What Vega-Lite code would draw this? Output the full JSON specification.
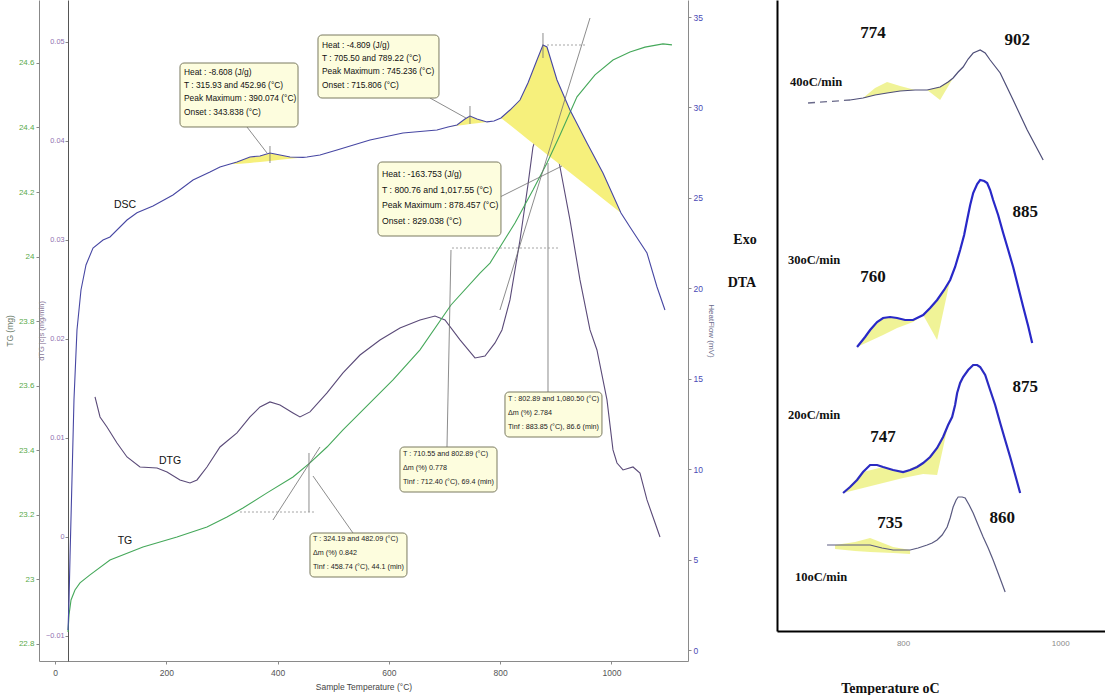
{
"$schema": "https://vega.github.io/schema/vega-lite/v6.json",
"background": "white",
"padding": {"left": 5, "top": 0, "right": 0, "bottom": 0},
"bounds": "flush",
"spacing": 89,
"config": {"view": {"stroke": null}, "font": "Liberation Sans"},
"datasets": {
"dsc": [
{"T":23.4,"hf":1.106},{"T":25.2,"hf":2.765},{"T":27.0,"hf":5.142},{"T":30.5,"hf":9.4},{"T":34.1,"hf":13.823},{"T":39.5,"hf":17.693},{"T":46.7,"hf":19.905},{"T":55.7,"hf":21.287},{"T":68.3,"hf":22.227},{"T":86.3,"hf":22.669},{"T":98.8,"hf":22.835},{"T":129.4,"hf":23.775},{"T":147.3,"hf":24.179},{"T":176.1,"hf":24.552},{"T":212.0,"hf":25.158},{"T":248.0,"hf":25.987},{"T":278.5,"hf":26.429},{"T":296.5,"hf":26.706},{"T":316.3,"hf":26.882},{"T":327.0,"hf":26.983},{"T":350.4,"hf":27.261},{"T":368.4,"hf":27.317},{"T":386.3,"hf":27.483},{"T":404.3,"hf":27.372},{"T":422.3,"hf":27.261},{"T":445.6,"hf":27.236},{"T":452.8,"hf":27.261},{"T":476.2,"hf":27.372},{"T":506.7,"hf":27.648},{"T":566.0,"hf":28.199},{"T":625.3,"hf":28.586},{"T":686.4,"hf":28.752},{"T":706.2,"hf":28.918},{"T":722.4,"hf":29.028},{"T":736.7,"hf":29.36},{"T":745.7,"hf":29.526},{"T":758.3,"hf":29.36},{"T":776.3,"hf":29.199},{"T":788.9,"hf":29.249},{"T":801.4,"hf":29.415},{"T":817.6,"hf":29.857},{"T":835.6,"hf":30.41},{"T":849.9,"hf":31.35},{"T":866.1,"hf":32.622},{"T":876.9,"hf":33.451},{"T":884.1,"hf":33.341},{"T":902.1,"hf":31.516},{"T":925.4,"hf":29.857},{"T":956.0,"hf":28.033},{"T":984.7,"hf":26.374},{"T":1017.1,"hf":24.162},{"T":1033.2,"hf":23.388},{"T":1063.8,"hf":21.951},{"T":1081.8,"hf":20.071},{"T":1096.1,"hf":18.799}
],
"dsc_fill": [
{"peak":"p1","T":316.3,"hf":26.882,"hf2":26.882},{"peak":"p1","T":327.0,"hf":26.983,"hf2":26.874},{"peak":"p1","T":350.4,"hf":27.261,"hf2":26.927},{"peak":"p1","T":368.4,"hf":27.317,"hf2":26.988},{"peak":"p1","T":386.3,"hf":27.483,"hf2":27.043},{"peak":"p1","T":404.3,"hf":27.372,"hf2":27.104},{"peak":"p1","T":422.3,"hf":27.261,"hf2":27.159},{"peak":"p1","T":445.6,"hf":27.236,"hf2":27.236},{"peak":"p1","T":452.8,"hf":27.261,"hf2":27.261},
{"peak":"p2","T":706.2,"hf":28.918,"hf2":28.918},{"peak":"p2","T":722.4,"hf":29.028,"hf2":28.984},{"peak":"p2","T":736.7,"hf":29.36,"hf2":29.039},{"peak":"p2","T":745.7,"hf":29.526,"hf2":29.077},{"peak":"p2","T":758.3,"hf":29.36,"hf2":29.127},{"peak":"p2","T":776.3,"hf":29.199,"hf2":29.199},{"peak":"p2","T":788.9,"hf":29.249,"hf2":29.249},
{"peak":"p3","T":801.4,"hf":29.415,"hf2":29.415},{"peak":"p3","T":817.6,"hf":29.857,"hf2":29.022},{"peak":"p3","T":835.6,"hf":30.41,"hf2":28.586},{"peak":"p3","T":849.9,"hf":31.35,"hf2":28.232},{"peak":"p3","T":866.1,"hf":32.622,"hf2":27.839},{"peak":"p3","T":876.9,"hf":33.451,"hf2":27.574},{"peak":"p3","T":884.1,"hf":33.341,"hf2":27.402},{"peak":"p3","T":902.1,"hf":31.516,"hf2":26.966},{"peak":"p3","T":925.4,"hf":29.857,"hf2":26.396},{"peak":"p3","T":956.0,"hf":28.033,"hf2":25.65},{"peak":"p3","T":984.7,"hf":26.374,"hf2":24.947},{"peak":"p3","T":1017.1,"hf":24.162,"hf2":24.162}
],
"dtg": [
{"T":71.9,"v":0.01414},{"T":80.9,"v":0.01212},{"T":93.4,"v":0.01111},{"T":111.4,"v":0.00949},{"T":129.4,"v":0.00808},{"T":152.7,"v":0.00707},{"T":183.3,"v":0.00697},{"T":201.3,"v":0.00657},{"T":224.6,"v":0.00576},{"T":242.6,"v":0.00545},{"T":255.2,"v":0.00576},{"T":273.1,"v":0.00707},{"T":296.5,"v":0.00909},{"T":327.0,"v":0.01051},{"T":350.4,"v":0.01212},{"T":368.4,"v":0.01313},{"T":386.3,"v":0.01364},{"T":404.3,"v":0.01333},{"T":427.7,"v":0.01253},{"T":440.2,"v":0.01212},{"T":458.2,"v":0.01263},{"T":488.8,"v":0.01455},{"T":517.5,"v":0.01657},{"T":548.1,"v":0.01838},{"T":584.0,"v":0.0199},{"T":619.9,"v":0.02111},{"T":655.9,"v":0.02192},{"T":682.8,"v":0.02232},{"T":700.8,"v":0.02192},{"T":727.8,"v":0.0199},{"T":754.7,"v":0.01808},{"T":772.7,"v":0.01828},{"T":790.7,"v":0.0196},{"T":803.2,"v":0.02091},{"T":817.6,"v":0.02394},{"T":835.6,"v":0.03},{"T":849.9,"v":0.03556},{"T":858.9,"v":0.03939},{"T":871.5,"v":0.04162},{"T":884.1,"v":0.04232},{"T":894.9,"v":0.04111},{"T":907.5,"v":0.03737},{"T":925.4,"v":0.03202},{"T":943.4,"v":0.02596},{"T":961.4,"v":0.02091},{"T":973.9,"v":0.01889},{"T":991.9,"v":0.01384},{"T":1002.7,"v":0.00879},{"T":1009.9,"v":0.00747},{"T":1020.7,"v":0.00677},{"T":1038.7,"v":0.00707},{"T":1051.2,"v":0.00646},{"T":1063.8,"v":0.00374},{"T":1074.6,"v":0.00202},{"T":1087.2,"v":0.0}
],
"tg": [
{"T":23.4,"m":22.837},{"T":25.2,"m":22.89},{"T":28.8,"m":22.936},{"T":35.9,"m":22.967},{"T":44.9,"m":22.989},{"T":62.9,"m":23.014},{"T":98.8,"m":23.06},{"T":158.1,"m":23.1},{"T":219.2,"m":23.131},{"T":273.1,"m":23.162},{"T":309.1,"m":23.193},{"T":337.8,"m":23.221},{"T":381.0,"m":23.268},{"T":427.7,"m":23.317},{"T":458.2,"m":23.361},{"T":488.8,"m":23.41},{"T":517.5,"m":23.463},{"T":548.1,"m":23.516},{"T":607.4,"m":23.618},{"T":655.9,"m":23.711},{"T":711.6,"m":23.85},{"T":763.7,"m":23.949},{"T":781.7,"m":23.98},{"T":826.6,"m":24.104},{"T":858.9,"m":24.206},{"T":884.1,"m":24.29},{"T":907.5,"m":24.377},{"T":938.0,"m":24.495},{"T":970.4,"m":24.563},{"T":1002.7,"m":24.609},{"T":1033.2,"m":24.634},{"T":1060.2,"m":24.649},{"T":1092.5,"m":24.659},{"T":1108.7,"m":24.656}
],
"lines_solid": [
{"T":345.0,"hf":28.918,"T2":381.0,"hf2":27.48},{"T":386.3,"hf":27.867,"T2":386.3,"hf2":26.927},{"T":673.9,"hf":30.521,"T2":738.5,"hf2":29.415},{"T":745.7,"hf":30.079,"T2":745.7,"hf2":29.083},{"T":799.6,"hf":25.047,"T2":911.1,"hf2":26.761},{"T":876.9,"hf":34.115,"T2":876.9,"hf2":32.733},{"T":961.4,"hf":34.944,"T2":799.6,"hf2":18.799},{"T":885.9,"hf":26.927,"T2":885.9,"hf2":14.265},{"T":711.6,"hf":22.117,"T2":704.4,"hf2":11.224},{"T":456.4,"hf":10.893,"T2":456.4,"hf2":7.63},{"T":391.7,"hf":7.188,"T2":476.2,"hf2":11.224},{"T":463.6,"hf":9.621,"T2":535.5,"hf2":6.469}
],
"lines_dot": [
{"T":884.1,"hf":33.451,"T2":952.4,"hf2":33.451},{"T":713.4,"hf":22.227,"T2":907.5,"hf2":22.227},{"T":332.4,"hf":7.63,"T2":469.0,"hf2":7.63}
],
"boxes": [
{"T":224.6,"T2":436.7,"hf":32.456,"hf2":28.918},{"T":472.6,"T2":690.0,"hf":34.004,"hf2":30.521},{"T":580.4,"T2":801.4,"hf":26.982,"hf2":22.891},{"T":458.2,"T2":632.5,"hf":6.469,"hf2":4.036},{"T":619.9,"T2":794.3,"hf":11.224,"hf2":8.736},{"T":808.6,"T2":982.9,"hf":14.265,"hf2":11.777}
],
"text_dsc": [
{"T":231.8,"hf":32.18,"label":"Heat : -8.608 (J/g)\nT : 315.93 and 452.96 (°C)\nPeak Maximum : 390.074 (°C)\nOnset : 343.838 (°C)"},
{"T":479.8,"hf":33.67,"label":"Heat : -4.809 (J/g)\nT : 705.50 and 789.22 (°C)\nPeak Maximum : 745.236 (°C)\nOnset : 715.806 (°C)"}
],
"text_dsc3": [
{"T":587.6,"hf":26.54,"label":"Heat : -163.753 (J/g)\nT : 800.76 and 1,017.55 (°C)\nPeak Maximum : 878.457 (°C)\nOnset : 829.038 (°C)"}
],
"text_tg": [
{"T":463.6,"hf":6.36,"label":"T : 324.19 and 482.09 (°C)\nΔm (%) 0.842\nTinf : 458.74 (°C), 44.1 (min)"},
{"T":625.3,"hf":11.06,"label":"T : 710.55 and 802.89 (°C)\nΔm (%) 0.778\nTinf : 712.40 (°C), 69.4 (min)"},
{"T":814.0,"hf":14.10,"label":"T : 802.89 and 1,080.50 (°C)\nΔm (%) 2.784\nTinf : 883.85 (°C), 86.6 (min)"}
],
"curve_labels": [
{"T":125.8,"hf":24.605,"label":"DSC"},{"T":206.6,"hf":10.45,"label":"DTG"},{"T":125.8,"hf":6.027,"label":"TG"}
],
"side_labels": [
{"T":1239.9,"hf":22.67,"label":"Exo"},{"T":1234.5,"hf":20.29,"label":"DTA"}
],
"dta": [
{"rate":"40","T":732.5,"s":53.1},{"rate":"40","T":749.0,"s":53.3},{"rate":"40","T":764.3,"s":53.6},{"rate":"40","T":779.6,"s":53.8},{"rate":"40","T":796.2,"s":54.0},{"rate":"40","T":815.3,"s":54.1},{"rate":"40","T":830.6,"s":54.1},{"rate":"40","T":847.1,"s":54.4},{"rate":"40","T":857.3,"s":54.9},{"rate":"40","T":863.7,"s":55.3},{"rate":"40","T":870.1,"s":55.9},{"rate":"40","T":876.4,"s":56.4},{"rate":"40","T":882.8,"s":57.2},{"rate":"40","T":889.2,"s":57.8},{"rate":"40","T":898.1,"s":58.1},{"rate":"40","T":904.5,"s":57.8},{"rate":"40","T":910.8,"s":57.1},{"rate":"40","T":923.6,"s":55.8},{"rate":"40","T":940.1,"s":53.1},{"rate":"40","T":958.0,"s":50.1},{"rate":"40","T":978.3,"s":47.1},
{"rate":"30","T":741.4,"s":28.4},{"rate":"30","T":751.6,"s":29.4},{"rate":"30","T":758.0,"s":30.1},{"rate":"30","T":766.9,"s":30.9},{"rate":"30","T":774.5,"s":31.3},{"rate":"30","T":783.4,"s":31.4},{"rate":"30","T":792.4,"s":31.3},{"rate":"30","T":802.5,"s":31.1},{"rate":"30","T":812.7,"s":31.1},{"rate":"30","T":825.5,"s":31.6},{"rate":"30","T":834.4,"s":32.3},{"rate":"30","T":843.3,"s":33.1},{"rate":"30","T":852.2,"s":34.1},{"rate":"30","T":859.9,"s":35.1},{"rate":"30","T":866.2,"s":36.4},{"rate":"30","T":872.6,"s":38.1},{"rate":"30","T":877.7,"s":39.6},{"rate":"30","T":881.5,"s":41.1},{"rate":"30","T":885.4,"s":42.6},{"rate":"30","T":889.2,"s":43.8},{"rate":"30","T":894.3,"s":44.7},{"rate":"30","T":898.1,"s":45.1},{"rate":"30","T":903.2,"s":45.0},{"rate":"30","T":907.0,"s":44.8},{"rate":"30","T":910.8,"s":44.1},{"rate":"30","T":914.6,"s":43.1},{"rate":"30","T":921.0,"s":41.6},{"rate":"30","T":927.4,"s":39.8},{"rate":"30","T":933.8,"s":38.1},{"rate":"30","T":940.1,"s":36.4},{"rate":"30","T":946.5,"s":34.4},{"rate":"30","T":952.9,"s":32.4},{"rate":"30","T":959.2,"s":30.5},{"rate":"30","T":964.3,"s":28.8},
{"rate":"20","T":723.6,"s":13.8},{"rate":"20","T":732.5,"s":14.4},{"rate":"20","T":741.4,"s":15.1},{"rate":"20","T":749.0,"s":15.9},{"rate":"20","T":758.0,"s":16.6},{"rate":"20","T":766.9,"s":16.6},{"rate":"20","T":774.5,"s":16.4},{"rate":"20","T":787.3,"s":16.1},{"rate":"20","T":800.0,"s":15.9},{"rate":"20","T":808.9,"s":16.1},{"rate":"20","T":817.8,"s":16.4},{"rate":"20","T":825.5,"s":16.8},{"rate":"20","T":834.4,"s":17.4},{"rate":"20","T":843.3,"s":18.3},{"rate":"20","T":850.9,"s":19.4},{"rate":"20","T":857.3,"s":20.6},{"rate":"20","T":862.4,"s":21.4},{"rate":"20","T":866.2,"s":22.6},{"rate":"20","T":868.8,"s":23.8},{"rate":"20","T":872.6,"s":24.8},{"rate":"20","T":876.4,"s":25.4},{"rate":"20","T":882.8,"s":26.1},{"rate":"20","T":889.2,"s":26.6},{"rate":"20","T":894.3,"s":26.6},{"rate":"20","T":898.1,"s":26.4},{"rate":"20","T":904.5,"s":25.6},{"rate":"20","T":910.8,"s":24.1},{"rate":"20","T":917.2,"s":22.6},{"rate":"20","T":923.6,"s":20.8},{"rate":"20","T":929.9,"s":19.1},{"rate":"20","T":936.3,"s":17.4},{"rate":"20","T":942.7,"s":15.6},{"rate":"20","T":949.0,"s":13.8},
{"rate":"10","T":703.2,"s":8.6},{"rate":"10","T":713.4,"s":8.6},{"rate":"10","T":723.6,"s":8.6},{"rate":"10","T":738.9,"s":8.6},{"rate":"10","T":758.0,"s":8.6},{"rate":"10","T":773.2,"s":8.3},{"rate":"10","T":787.3,"s":8.1},{"rate":"10","T":800.0,"s":8.1},{"rate":"10","T":808.9,"s":8.1},{"rate":"10","T":819.1,"s":8.3},{"rate":"10","T":830.6,"s":8.6},{"rate":"10","T":837.0,"s":8.8},{"rate":"10","T":843.3,"s":9.1},{"rate":"10","T":849.7,"s":9.6},{"rate":"10","T":856.1,"s":10.4},{"rate":"10","T":859.9,"s":11.3},{"rate":"10","T":863.7,"s":12.4},{"rate":"10","T":867.5,"s":13.1},{"rate":"10","T":870.1,"s":13.4},{"rate":"10","T":875.2,"s":13.4},{"rate":"10","T":879.0,"s":13.3},{"rate":"10","T":884.1,"s":12.6},{"rate":"10","T":889.2,"s":11.8},{"rate":"10","T":895.5,"s":10.6},{"rate":"10","T":901.9,"s":9.4},{"rate":"10","T":908.3,"s":8.3},{"rate":"10","T":914.6,"s":7.1},{"rate":"10","T":922.3,"s":5.5},{"rate":"10","T":929.9,"s":3.9}
],
"dta_fill": [
{"g":"40a","T":749.0,"s":53.3,"s2":53.3},{"g":"40a","T":764.3,"s":54.3,"s2":53.6},{"g":"40a","T":779.6,"s":54.9,"s2":53.8},{"g":"40a","T":796.2,"s":54.5,"s2":54.0},{"g":"40a","T":815.3,"s":54.1,"s2":54.1},
{"g":"40b","T":830.6,"s":54.1,"s2":54.1},{"g":"40b","T":847.1,"s":54.4,"s2":53.1},{"g":"40b","T":863.7,"s":55.3,"s2":55.3},
{"g":"30a","T":741.4,"s":28.4,"s2":28.4},{"g":"30a","T":758.0,"s":30.1,"s2":29.0},{"g":"30a","T":774.5,"s":31.3,"s2":29.6},{"g":"30a","T":792.4,"s":31.3,"s2":30.3},{"g":"30a","T":812.7,"s":31.1,"s2":30.9},{"g":"30a","T":825.5,"s":31.6,"s2":31.6},
{"g":"30b","T":825.5,"s":31.6,"s2":31.6},{"g":"30b","T":843.3,"s":33.1,"s2":29.1},{"g":"30b","T":859.9,"s":35.1,"s2":35.1},
{"g":"20a","T":723.6,"s":13.8,"s2":13.8},{"g":"20a","T":749.0,"s":15.9,"s2":14.3},{"g":"20a","T":774.5,"s":16.4,"s2":14.8},{"g":"20a","T":800.0,"s":15.9,"s2":15.3},{"g":"20a","T":825.5,"s":16.8,"s2":15.7},{"g":"20a","T":843.3,"s":18.3,"s2":15.6},{"g":"20a","T":857.3,"s":20.6,"s2":20.6},
{"g":"10a","T":713.4,"s":8.6,"s2":8.2},{"g":"10a","T":738.9,"s":8.9,"s2":8.0},{"g":"10a","T":758.0,"s":9.3,"s2":7.9},{"g":"10a","T":787.3,"s":8.4,"s2":7.8},{"g":"10a","T":808.9,"s":8.1,"s2":7.7}
],
"dta_dash": [{"T":679.0,"s":52.8},{"T":732.5,"s":53.1}],
"peak_labels": [
{"T":761.8,"s":59.8,"label":"774"},{"T":945.2,"s":59.1,"label":"902"},{"T":955.4,"s":41.9,"label":"885"},{"T":761.8,"s":35.4,"label":"760"},{"T":955.4,"s":24.4,"label":"875"},{"T":774.5,"s":19.4,"label":"747"},{"T":926.1,"s":11.3,"label":"860"},{"T":783.4,"s":10.8,"label":"735"}
],
"rate_labels": [
{"T":656.1,"s":54.9,"label":"40oC/min"},{"T":653.5,"s":37.1,"label":"30oC/min"},{"T":653.5,"s":21.6,"label":"20oC/min"},{"T":662.4,"s":5.4,"label":"10oC/min"}
]
},
"hconcat": [
{
"width": 649, "height": 661,
"encoding": {"x": {"field": "T", "type": "quantitative", "scale": {"domain": [-28.75, 1137.5], "nice": false, "zero": false},
  "axis": {"values": [0,200,400,600,800,1000], "format": "d", "title": "Sample Temperature (°C)", "grid": false, "domainColor": "#8a8a8a", "tickColor": "#8a8a8a", "tickSize": 3, "labelFontSize": 8.5, "labelColor": "#555555", "labelPadding": 4, "titleFontSize": 8.5, "titleFontWeight": "normal", "titleColor": "#444444", "titlePadding": 6}}},
"layer": [
{"data": {"name": "dtg"}, "mark": {"type": "line", "color": "#5a4a78", "strokeWidth": 1.1},
 "encoding": {"y": {"field": "v", "type": "quantitative", "scale": {"domain": [-0.01253, 0.05424], "nice": false, "zero": false},
  "axis": {"orient": "left", "offset": -29, "values": [-0.01,0,0.01,0.02,0.03,0.04,0.05], "format": "~g", "grid": false, "title": "dTG |c|s (mg/min)", "domainColor": "#555555", "tickColor": "#888888", "tickSize": 3, "labelFontSize": 7.3, "labelColor": "#9070b0", "labelPadding": 1, "titleFontSize": 7.5, "titleFontWeight": "normal", "titleColor": "#8a7a9a", "titlePadding": 0}}}},
{"data": {"name": "dsc_fill"}, "mark": {"type": "area", "color": "#f6f07c", "opacity": 1},
 "encoding": {"y": {"field": "hf", "type": "quantitative", "scale": {"domain": [-0.608, 35.94], "nice": false, "zero": false}, "axis": null}, "y2": {"field": "hf2"}, "detail": {"field": "peak"}}},
{"data": {"name": "tg"}, "mark": {"type": "line", "color": "#45a85a", "strokeWidth": 1.1},
 "encoding": {"y": {"field": "m", "type": "quantitative", "scale": {"domain": [22.747, 24.795], "nice": false, "zero": false},
  "axis": {"orient": "left", "offset": 0, "values": [22.8,23,23.2,23.4,23.6,23.8,24,24.2,24.4,24.6], "format": "~g", "grid": false, "title": "TG (mg)", "domainColor": "#888888", "tickColor": "#888888", "tickSize": 3, "labelFontSize": 8, "labelColor": "#5aaa4a", "labelPadding": 2, "titleFontSize": 8.5, "titleFontWeight": "normal", "titleColor": "#6a7a6a", "titlePadding": 4}}}},
{"data": {"name": "dsc"}, "mark": {"type": "line", "color": "#4747a3", "strokeWidth": 1.1},
 "encoding": {"y": {"field": "hf", "type": "quantitative", "scale": {"domain": [-0.608, 35.94], "nice": false, "zero": false},
  "axis": {"orient": "right", "values": [0,5,10,15,20,25,30,35], "grid": false, "title": "HeatFlow (mV)", "domainColor": "#8a8a8a", "tickColor": "#8a8a8a", "tickSize": 3, "labelFontSize": 8.5, "labelColor": "#4a4ab5", "labelPadding": 2, "titleFontSize": 8, "titleFontWeight": "normal", "titleColor": "#6a6a8a", "titlePadding": 4}}}},
{"data": {"name": "lines_solid"}, "mark": {"type": "rule", "color": "#6f6f6f", "strokeWidth": 0.8},
 "encoding": {"x2": {"field": "T2"}, "y": {"field": "hf", "type": "quantitative", "scale": {"domain": [-0.608, 35.94], "nice": false, "zero": false}, "axis": null}, "y2": {"field": "hf2"}}},
{"data": {"name": "lines_dot"}, "mark": {"type": "rule", "color": "#9a9a9a", "strokeWidth": 0.9, "strokeDash": [2, 2]},
 "encoding": {"x2": {"field": "T2"}, "y": {"field": "hf", "type": "quantitative", "scale": {"domain": [-0.608, 35.94], "nice": false, "zero": false}, "axis": null}, "y2": {"field": "hf2"}}},
{"data": {"name": "boxes"}, "mark": {"type": "rect", "fill": "#fdfdde", "stroke": "#7a7a60", "strokeWidth": 1, "cornerRadius": 4},
 "encoding": {"x2": {"field": "T2"}, "y": {"field": "hf", "type": "quantitative", "scale": {"domain": [-0.608, 35.94], "nice": false, "zero": false}, "axis": null}, "y2": {"field": "hf2"}}},
{"data": {"name": "text_dsc"}, "mark": {"type": "text", "align": "left", "baseline": "top", "lineBreak": "\n", "fontSize": 8.4, "lineHeight": 13.2, "color": "#111111"},
 "encoding": {"y": {"field": "hf", "type": "quantitative", "scale": {"domain": [-0.608, 35.94], "nice": false, "zero": false}, "axis": null}, "text": {"field": "label"}}},
{"data": {"name": "text_dsc3"}, "mark": {"type": "text", "align": "left", "baseline": "top", "lineBreak": "\n", "fontSize": 8.7, "lineHeight": 15.5, "color": "#111111"},
 "encoding": {"y": {"field": "hf", "type": "quantitative", "scale": {"domain": [-0.608, 35.94], "nice": false, "zero": false}, "axis": null}, "text": {"field": "label"}}},
{"data": {"name": "text_tg"}, "mark": {"type": "text", "align": "left", "baseline": "top", "lineBreak": "\n", "fontSize": 7.2, "lineHeight": 14, "color": "#222222"},
 "encoding": {"y": {"field": "hf", "type": "quantitative", "scale": {"domain": [-0.608, 35.94], "nice": false, "zero": false}, "axis": null}, "text": {"field": "label"}}},
{"data": {"name": "curve_labels"}, "mark": {"type": "text", "align": "center", "baseline": "middle", "fontSize": 10.5, "color": "#111111"},
 "encoding": {"y": {"field": "hf", "type": "quantitative", "scale": {"domain": [-0.608, 35.94], "nice": false, "zero": false}, "axis": null}, "text": {"field": "label"}}},
{"data": {"name": "side_labels"}, "mark": {"type": "text", "align": "center", "baseline": "middle", "font": "Liberation Serif", "fontWeight": "bold", "fontSize": 14, "color": "#111111"},
 "encoding": {"y": {"field": "hf", "type": "quantitative", "scale": {"domain": [-0.608, 35.94], "nice": false, "zero": false}, "axis": null}, "text": {"field": "label"}}}
],
"resolve": {"scale": {"y": "independent"}, "axis": {"y": "independent"}}
},
{
"width": 328, "height": 631,
"encoding": {"x": {"field": "T", "type": "quantitative", "scale": {"domain": [639.5, 1057], "nice": false, "zero": false},
  "axis": {"values": [800, 1000], "format": "d", "grid": false, "ticks": false, "domainColor": "#000000", "domainWidth": 2, "labelFontSize": 8, "labelColor": "#8a8a8a", "labelPadding": 8, "title": "Temperature oC", "titleFont": "Liberation Serif", "titleFontWeight": "bold", "titleFontSize": 14, "titleColor": "#111111", "titleX": 113, "titleY": 57, "titleAlign": "center", "titleBaseline": "middle"}}},
"layer": [
{"data": {"name": "dta_fill"}, "mark": {"type": "area", "color": "#eef28c", "opacity": 0.9},
 "encoding": {"y": {"field": "s", "type": "quantitative", "scale": {"domain": [0, 63.1], "nice": false, "zero": false}, "axis": {"grid": false, "labels": false, "ticks": false, "title": null, "domainColor": "#000000", "domainWidth": 2}}, "y2": {"field": "s2"}, "detail": {"field": "g"}}},
{"data": {"name": "dta_dash"}, "mark": {"type": "line", "color": "#6a6a8a", "strokeWidth": 1.3, "strokeDash": [7, 5]},
 "encoding": {"y": {"field": "s", "type": "quantitative", "scale": {"domain": [0, 63.1], "nice": false, "zero": false}}}},
{"data": {"name": "dta"}, "transform": [{"filter": "datum.rate == '40'"}], "mark": {"type": "line", "color": "#4e4e78", "strokeWidth": 1.2},
 "encoding": {"y": {"field": "s", "type": "quantitative", "scale": {"domain": [0, 63.1], "nice": false, "zero": false}}}},
{"data": {"name": "dta"}, "transform": [{"filter": "datum.rate == '30'"}], "mark": {"type": "line", "color": "#2828c8", "strokeWidth": 2.2},
 "encoding": {"y": {"field": "s", "type": "quantitative", "scale": {"domain": [0, 63.1], "nice": false, "zero": false}}}},
{"data": {"name": "dta"}, "transform": [{"filter": "datum.rate == '20'"}], "mark": {"type": "line", "color": "#2b2bc2", "strokeWidth": 2.2},
 "encoding": {"y": {"field": "s", "type": "quantitative", "scale": {"domain": [0, 63.1], "nice": false, "zero": false}}}},
{"data": {"name": "dta"}, "transform": [{"filter": "datum.rate == '10'"}], "mark": {"type": "line", "color": "#5a5a80", "strokeWidth": 1.2},
 "encoding": {"y": {"field": "s", "type": "quantitative", "scale": {"domain": [0, 63.1], "nice": false, "zero": false}}}},
{"data": {"name": "peak_labels"}, "mark": {"type": "text", "align": "center", "baseline": "middle", "font": "Liberation Serif", "fontWeight": "bold", "fontSize": 17, "color": "#111111"},
 "encoding": {"y": {"field": "s", "type": "quantitative", "scale": {"domain": [0, 63.1], "nice": false, "zero": false}}, "text": {"field": "label"}}},
{"data": {"name": "rate_labels"}, "mark": {"type": "text", "align": "left", "baseline": "middle", "font": "Liberation Serif", "fontWeight": "bold", "fontSize": 12.5, "color": "#111111"},
 "encoding": {"y": {"field": "s", "type": "quantitative", "scale": {"domain": [0, 63.1], "nice": false, "zero": false}}, "text": {"field": "label"}}}
]
}
]
}
